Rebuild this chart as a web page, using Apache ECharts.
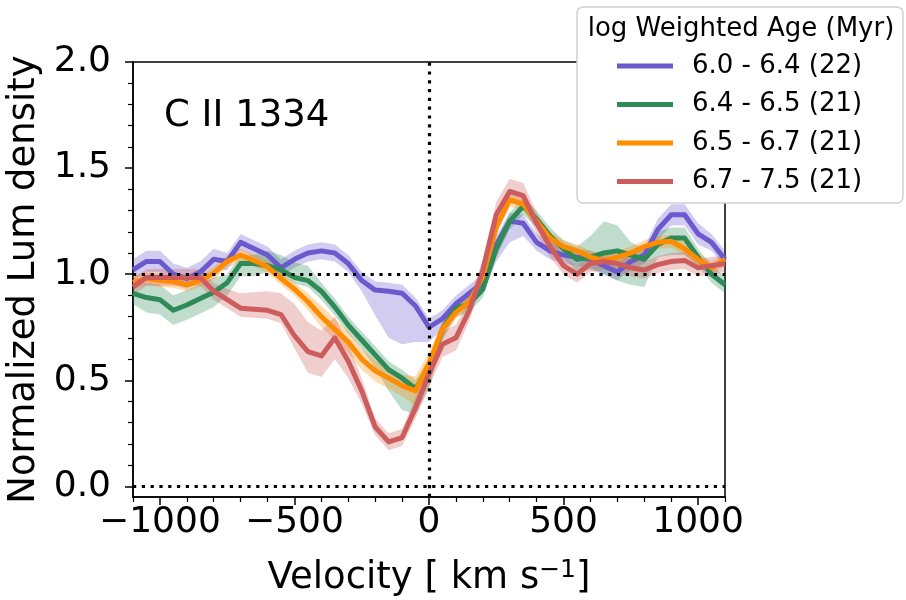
<!DOCTYPE html>
<html><head><meta charset="utf-8">
<script src="https://cdn.jsdelivr.net/npm/echarts@6/dist/echarts.min.js"></script>
<style>html,body{margin:0;padding:0;background:#fff}#c{width:906px;height:600px}</style>
</head><body><div id="c"></div>
<script>
// ---- data ----
const velocity = [-1100,-1050,-1000,-950,-900,-850,-800,-750,-700,-650,-600,-550,-500,-450,-400,-350,-300,-250,-200,-150,-100,-50,0,50,100,150,200,250,300,350,400,450,500,550,600,650,700,750,800,850,900,950,1000,1050,1100];
const seriesNames = ['6.0 - 6.4 (22)','6.4 - 6.5 (21)','6.5 - 6.7 (21)','6.7 - 7.5 (21)'];
const legendTitle = 'log Weighted Age (Myr)';
const panelLabel = 'C II 1334';
const xMajorTicks = [-1000,-500,0,500,1000];
const xMinorTicks = [-1100,-900,-800,-700,-600,-400,-300,-200,-100,100,200,300,400,600,700,800,900,1100];
const yMajorTicks = [0,0.5,1.0,1.5,2.0];
const yMinorTicks = [0.1,0.2,0.3,0.4,0.6,0.7,0.8,0.9,1.1,1.2,1.3,1.4,1.6,1.7,1.8,1.9];
const refY = [0, 1];
const refX = [0];

const age1 = [1.02,1.06,1.06,1.00,0.98,1.01,1.07,1.06,1.15,1.12,1.09,1.03,1.07,1.10,1.11,1.10,1.05,0.97,0.925,0.92,0.91,0.85,0.75,0.79,0.86,0.91,0.96,1.14,1.25,1.24,1.15,1.11,1.09,1.08,1.07,1.04,1.01,1.06,1.09,1.21,1.28,1.28,1.19,1.15,1.07];
const age1Down = [0.05,0.05,0.05,0.05,0.05,0.05,0.05,0.04,0.04,0.04,0.04,0.04,0.04,0.04,0.04,0.04,0.04,0.05,0.12,0.22,0.24,0.17,0.07,0.05,0.05,0.05,0.05,0.08,0.10,0.06,0.04,0.04,0.04,0.04,0.04,0.04,0.04,0.04,0.04,0.05,0.05,0.05,0.05,0.04,0.04];
const age1Up = [0.05,0.05,0.05,0.05,0.05,0.05,0.05,0.04,0.04,0.04,0.04,0.04,0.04,0.04,0.04,0.04,0.04,0.04,0.04,0.04,0.04,0.04,0.04,0.04,0.04,0.04,0.04,0.04,0.04,0.04,0.04,0.04,0.04,0.04,0.04,0.04,0.04,0.04,0.04,0.05,0.05,0.05,0.05,0.04,0.04];

const age2 = [0.91,0.89,0.88,0.83,0.855,0.885,0.915,0.96,1.05,1.05,1.04,1.02,0.985,0.97,0.92,0.845,0.76,0.69,0.62,0.55,0.51,0.46,0.56,0.74,0.84,0.86,0.93,1.12,1.25,1.32,1.26,1.18,1.12,1.07,1.08,1.10,1.11,1.09,1.07,1.14,1.17,1.17,1.08,1.00,0.95];
const age2Down = [0.05,0.07,0.07,0.07,0.07,0.07,0.07,0.06,0.06,0.06,0.03,0.03,0.03,0.03,0.04,0.04,0.04,0.04,0.06,0.10,0.15,0.12,0.10,0.05,0.04,0.04,0.04,0.04,0.04,0.04,0.04,0.04,0.04,0.06,0.06,0.10,0.14,0.14,0.13,0.06,0.08,0.08,0.04,0.04,0.04];
const age2Up = [0.04,0.07,0.07,0.07,0.07,0.07,0.07,0.04,0.04,0.04,0.07,0.07,0.07,0.07,0.04,0.04,0.04,0.04,0.04,0.04,0.04,0.04,0.04,0.04,0.04,0.04,0.04,0.04,0.04,0.04,0.04,0.04,0.04,0.06,0.10,0.15,0.12,0.06,0.05,0.06,0.05,0.05,0.04,0.04,0.04];

const age3 = [0.96,0.98,0.97,0.965,0.95,0.97,1.005,1.06,1.09,1.065,1.035,0.98,0.93,0.87,0.80,0.74,0.68,0.60,0.545,0.51,0.475,0.45,0.58,0.74,0.82,0.87,0.99,1.22,1.35,1.33,1.25,1.17,1.13,1.11,1.08,1.065,1.08,1.10,1.13,1.15,1.155,1.12,1.07,1.03,1.07];
const age3Down = [0.03,0.03,0.03,0.03,0.03,0.03,0.03,0.03,0.03,0.03,0.03,0.03,0.03,0.04,0.05,0.05,0.05,0.05,0.05,0.05,0.05,0.07,0.05,0.04,0.03,0.03,0.03,0.03,0.03,0.03,0.03,0.03,0.03,0.03,0.03,0.03,0.03,0.03,0.03,0.03,0.03,0.03,0.03,0.03,0.03];
const age3Up = [0.03,0.03,0.03,0.03,0.03,0.03,0.03,0.03,0.03,0.03,0.03,0.03,0.03,0.04,0.05,0.05,0.05,0.05,0.05,0.05,0.05,0.07,0.05,0.04,0.03,0.03,0.03,0.03,0.03,0.03,0.03,0.03,0.03,0.03,0.03,0.03,0.03,0.03,0.03,0.03,0.03,0.03,0.03,0.03,0.03];

const age4 = [0.94,0.985,0.985,0.985,0.985,0.985,0.92,0.88,0.84,0.835,0.83,0.81,0.71,0.635,0.615,0.70,0.59,0.45,0.28,0.21,0.23,0.37,0.53,0.67,0.70,0.83,1.02,1.28,1.39,1.37,1.24,1.13,1.04,1.00,1.05,1.06,1.05,1.03,1.02,1.045,1.06,1.065,1.03,1.04,1.05];
const age4Down = [0.04,0.04,0.04,0.04,0.04,0.04,0.04,0.04,0.04,0.04,0.04,0.04,0.06,0.10,0.10,0.10,0.08,0.06,0.04,0.04,0.04,0.05,0.06,0.06,0.06,0.05,0.05,0.05,0.05,0.05,0.05,0.05,0.04,0.04,0.04,0.04,0.04,0.04,0.04,0.04,0.04,0.04,0.04,0.04,0.04];
const age4Up = [0.04,0.04,0.04,0.04,0.04,0.04,0.04,0.05,0.07,0.08,0.09,0.10,0.15,0.14,0.12,0.10,0.08,0.06,0.04,0.04,0.04,0.05,0.06,0.06,0.06,0.05,0.05,0.06,0.06,0.06,0.05,0.05,0.04,0.04,0.04,0.04,0.04,0.04,0.04,0.04,0.04,0.04,0.04,0.04,0.04];

const means = [age1, age2, age3, age4];
const downs = [age1Down, age2Down, age3Down, age4Down];
const ups = [age1Up, age2Up, age3Up, age4Up];
const colors = ['#6a5acd', '#2e8b57', '#ff8c00', '#cd5c5c'];

// ---- chart ----
const FONT = 'DejaVu Sans';
const chart = echarts.init(document.getElementById('c'), null, {renderer: 'canvas'});
const minus = v => String(v).replace('-', '\u2212');

const series = [];
series.push({
  type: 'line', name: '_ref', data: [], symbol: 'none', silent: true,
  markLine: {
    silent: true, symbol: ['none', 'none'], label: {show: false},
    lineStyle: {color: '#000', width: 3.2, type: [3.2, 5.6], cap: 'butt'},
    emphasis: {disabled: true},
    data: refY.map(v => ({yAxis: v})).concat(refX.map(v => ({xAxis: v})))
  }
});
means.forEach((m, k) => {
  const bandData = velocity.map((v, i) => [v, m[i] - downs[k][i], m[i] + ups[k][i]]);
  series.push({
    type: 'custom', name: '_band' + k, silent: true,
    encode: {x: 0, y: [1, 2]},
    data: bandData,
    renderItem: function (params, api) {
      if (params.dataIndex !== 0) return null;
      const pts = [];
      for (let i = 0; i < bandData.length; i++) pts.push(api.coord([bandData[i][0], bandData[i][2]]));
      for (let i = bandData.length - 1; i >= 0; i--) pts.push(api.coord([bandData[i][0], bandData[i][1]]));
      return {
        type: 'polygon',
        shape: {points: pts},
        style: {fill: colors[k], opacity: 0.3, stroke: null},
        clipPath: {type: 'rect', shape: {x: params.coordSys.x, y: params.coordSys.y, width: params.coordSys.width, height: params.coordSys.height}}
      };
    }
  });
  series.push({
    type: 'line', name: seriesNames[k], symbol: 'none', showSymbol: false,
    color: colors[k],
    lineStyle: {color: colors[k], width: 5, join: 'round'},
    data: velocity.map((v, i) => [v, m[i]])
  });
});

chart.setOption({
  animation: false,
  backgroundColor: '#fff',
  grid: {left: 133, right: 181, top: 62, bottom: 103, outerBoundsMode: 'none', containLabel: false, show: true, borderColor: '#000', borderWidth: 1.5, backgroundColor: 'transparent'},
  xAxis: [{
    type: 'value', min: -1100, max: 1100, position: 'bottom',
    axisLine: {show: true, onZero: false, lineStyle: {color: '#000', width: 1.5}},
    axisTick: {show: true, customValues: xMajorTicks, length: 8, lineStyle: {color: '#000', width: 1.5}},
    axisLabel: {show: true, customValues: xMajorTicks, formatter: minus, fontSize: 36, fontFamily: FONT, color: '#000', margin: 8},
    splitLine: {show: false},
    name: 'Velocity [ km s{sup|\u22121}]', nameLocation: 'middle', nameGap: 61,
    nameTextStyle: {fontSize: 37, fontFamily: FONT, color: '#000', rich: {sup: {fontSize: 25, fontFamily: FONT, color: '#000', verticalAlign: 'top', padding: [0, 0, 16, 0]}}}
  }, {
    type: 'value', min: -1100, max: 1100, position: 'bottom',
    axisLine: {show: false, onZero: false},
    axisTick: {show: true, customValues: xMinorTicks, length: 5, lineStyle: {color: '#000', width: 1.2}},
    axisLabel: {show: false}, splitLine: {show: false}
  }],
  yAxis: [{
    type: 'value', min: -0.05, max: 2.0, position: 'left',
    axisLine: {show: true, onZero: false, lineStyle: {color: '#000', width: 1.5}},
    axisTick: {show: true, customValues: yMajorTicks, length: 8, lineStyle: {color: '#000', width: 1.5}},
    axisLabel: {show: true, customValues: yMajorTicks, formatter: v => minus(Number(v).toFixed(1)), fontSize: 36, fontFamily: FONT, color: '#000', margin: 22},
    splitLine: {show: false},
    name: 'Normalized Lum density', nameLocation: 'middle', nameGap: 87,
    nameTextStyle: {fontSize: 37, fontFamily: FONT, color: '#000'}
  }, {
    type: 'value', min: -0.05, max: 2.0, position: 'left',
    axisLine: {show: false, onZero: false},
    axisTick: {show: true, customValues: yMinorTicks, length: 5, lineStyle: {color: '#000', width: 1.2}},
    axisLabel: {show: false}, splitLine: {show: false}
  }],
  legend: {
    data: seriesNames, orient: 'vertical', left: 617, top: 51, padding: 0,
    icon: 'rect', itemWidth: 56, itemHeight: 5, itemGap: 8.5, itemTextGap: 20,
    selectedMode: false, z: 20,
    textStyle: {fontSize: 26, fontFamily: FONT, color: '#000', lineHeight: 30, padding: [0, 0, 0, 14]}
  },
  graphic: [
    {type: 'rect', z: 15, shape: {x: 577, y: 7, width: 326, height: 196, r: 6},
     style: {fill: '#fff', stroke: '#d0d0d0', lineWidth: 1.5}},
    {type: 'text', z: 20, x: 741, y: 29,
     style: {text: legendTitle, font: '26px "DejaVu Sans"', fill: '#000', align: 'center', verticalAlign: 'middle'}},
    {type: 'text', z: 20, x: 164, y: 116,
     style: {text: panelLabel, font: '37px "DejaVu Sans"', fill: '#000', align: 'left', verticalAlign: 'middle'}}
  ],
  series: series
});
</script>
</body></html>
